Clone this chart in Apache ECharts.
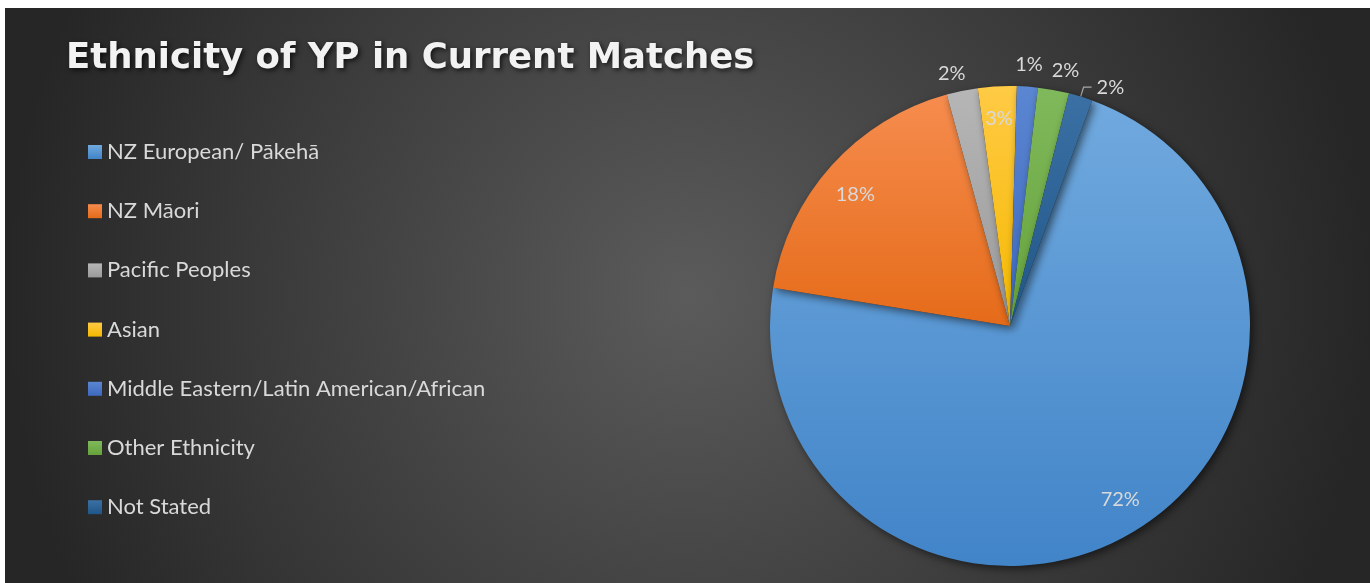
<!DOCTYPE html>
<html>
<head>
<meta charset="utf-8">
<script src="https://cdn.jsdelivr.net/npm/echarts@6/dist/echarts.min.js"></script>
<style>
  html, body { margin: 0; padding: 0; background: #ffffff; width: 1370px; height: 583px; overflow: hidden; }
  #bg { position: absolute; left: 5px; top: 8px; width: 1365px; height: 575px;
        background: radial-gradient(circle farthest-side at 50% 50%, #5b5b5b 0%, #262626 100%); }
  #chart { position: absolute; left: 0; top: 0; width: 1370px; height: 583px; }
</style>
</head>
<body>
<div id="bg"></div>
<div id="chart"></div>
<script>
const titleText = 'Ethnicity of YP in Current Matches';
const categories = [
  'NZ European/ Pākehā',
  'NZ Māori',
  'Pacific Peoples',
  'Asian',
  'Middle Eastern/Latin American/African',
  'Other Ethnicity',
  'Not Stated'
];
const values = [72.0, 18.2, 2.1, 2.6, 1.4, 2.1, 1.6];

const sliceColors = [
  ['#70a9de', '#4184c8'],
  ['#f68c4e', '#e56b19'],
  ['#b6b6b6', '#9a9a9a'],
  ['#ffca45', '#f5b900'],
  ['#5b86d2', '#3d69bf'],
  ['#80b95b', '#65a23b'],
  ['#3b70a4', '#1f5687']
];
const legendColors = ['#5b9bd5', '#ed7d31', '#a5a5a5', '#ffc000', '#4472c4', '#70ad47', '#255e91'];

const innerLabelIdx = [0, 1, 3];
const outerLabelIdx = [2, 4, 5];
const leaderLabelIdx = [6];
// small nudges replicating the spreadsheet's best-fit label placement
const labelNudge = { 0: [5, -6], 1: [0, 8], 2: [-6, 4], 5: [8, 2] };

const FONT = 'Lato, "Open Sans", sans-serif';
const TITLE_FONT = '"DejaVu Sans", Lato, sans-serif';
const LABEL_COLOR = '#d9d9d9';
const CENTER = [1010, 326];
const R = 240;
const START = 70;
const fmt = p => Math.round(p.percent) + '%';

function grad(c) {
  return new echarts.graphic.LinearGradient(0, 0, 0, 1, [
    { offset: 0, color: c[0] }, { offset: 1, color: c[1] }
  ]);
}

const mainData = categories.map((name, i) => ({
  name, value: values[i],
  itemStyle: { color: grad(sliceColors[i]) },
  label: { show: leaderLabelIdx.includes(i) },
  labelLine: { show: leaderLabelIdx.includes(i) }
}));

function overlayData(idxList) {
  return categories.map((name, i) => ({
    name, value: values[i],
    label: { show: idxList.includes(i), offset: labelNudge[i] || [0, 0] }
  }));
}

const overlayCommon = {
  type: 'pie',
  center: CENTER,
  startAngle: START,
  clockwise: true,
  silent: true,
  legendHoverLink: false,
  avoidLabelOverlap: false,
  emphasis: { disabled: true },
  itemStyle: { color: 'rgba(0,0,0,0)', borderWidth: 0 },
  labelLine: { show: false },
  label: { position: 'inside', formatter: fmt, color: LABEL_COLOR, fontSize: 20, fontFamily: FONT }
};

const chart = echarts.init(document.getElementById('chart'), null, { renderer: 'canvas' });
chart.setOption({
  backgroundColor: 'transparent',
  animation: false,
  color: legendColors,
  title: {
    text: titleText,
    left: 66,
    top: 41,
    padding: 0,
    textStyle: {
      color: '#f2f2f2', fontSize: 35.5, fontWeight: 'bold', fontFamily: TITLE_FONT,
      textShadowColor: 'rgba(0,0,0,0.7)', textShadowBlur: 5, textShadowOffsetX: 2, textShadowOffsetY: 2
    }
  },
  legend: {
    orient: 'vertical',
    left: 88,
    top: 141,
    padding: 0,
    itemWidth: 14,
    itemHeight: 14,
    itemGap: 37.2,
    icon: 'rect',
    data: categories,
    textStyle: { color: LABEL_COLOR, fontSize: 22, fontFamily: FONT, lineHeight: 14 }
  },
  series: [
    {
      type: 'pie',
      center: CENTER,
      radius: R,
      startAngle: START,
      clockwise: true,
      avoidLabelOverlap: false,
      data: mainData,
      itemStyle: {
        borderWidth: 0,
        shadowColor: 'rgba(0,0,0,0.55)', shadowBlur: 8, shadowOffsetX: 3, shadowOffsetY: 3
      },
      label: { position: 'outside', formatter: fmt, color: LABEL_COLOR, fontSize: 20, fontFamily: FONT },
      labelLine: { length: 10, length2: 8, lineStyle: { color: '#a6a6a6', width: 1.3 } }
    },
    Object.assign({}, overlayCommon, { radius: [170, R], data: overlayData(innerLabelIdx) }),
    Object.assign({}, overlayCommon, { radius: [R, 278], data: overlayData(outerLabelIdx) })
  ]
});
</script>
</body>
</html>
